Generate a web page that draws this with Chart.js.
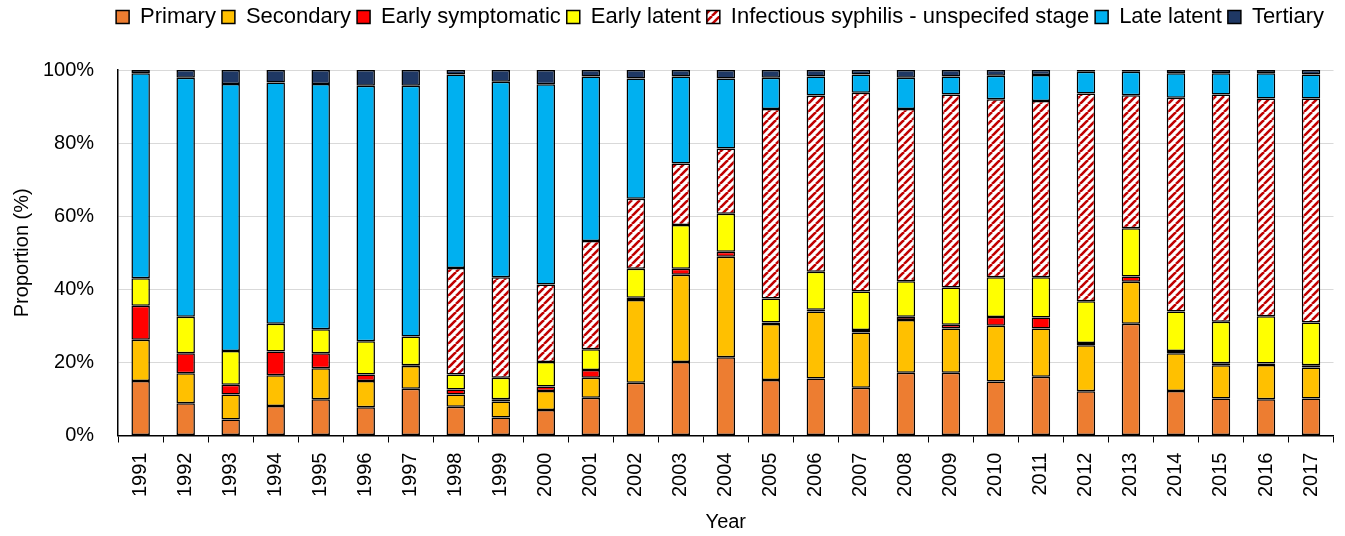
<!DOCTYPE html>
<html>
<head>
<meta charset="utf-8">
<script src="https://cdn.jsdelivr.net/npm/chart.js@4"></script>
<style>
  html, body { margin: 0; padding: 0; background: #fff; }
  #wrap { width: 1345px; height: 536px; }
</style>
</head>
<body>
<div id="wrap"><canvas id="chart" width="1345" height="536"></canvas></div>
<script>
// === Data (percent of cases per year) ===
const years = ['1991','1992','1993','1994','1995','1996','1997','1998','1999','2000','2001','2002','2003','2004',
               '2005','2006','2007','2008','2009','2010','2011','2012','2013','2014','2015','2016','2017'];
const primary      = [14.9, 8.8, 4.4, 8.1, 9.9, 7.7, 12.8, 7.9, 4.9, 7.0, 10.3, 14.4, 20.1, 21.4, 15.2, 15.6, 13.1, 17.2, 17.2, 14.8, 16.1, 12.1, 30.6, 12.2, 10.1, 9.9, 10.1];
const secondary    = [11.3, 8.2, 6.8, 8.4, 8.5, 7.2, 6.2, 3.3, 4.4, 5.2, 5.5, 22.7, 23.9, 27.5, 15.3, 18.3, 15.1, 14.4, 12.1, 15.2, 13.2, 12.6, 11.5, 10.3, 9.1, 9.4, 8.5];
const earlySymp    = [9.3, 5.5, 2.7, 6.5, 4.1, 1.8, 0.2, 1.4, 0.6, 1.2, 2.1, 0.6, 1.6, 1.4, 0.4, 0.5, 0.7, 0.9, 1.0, 2.4, 3.0, 0.6, 1.4, 0.6, 0.6, 0.4, 0.6];
const earlyLatent  = [7.5, 10.0, 9.2, 7.6, 6.6, 9.1, 7.9, 4.1, 5.9, 6.7, 5.7, 7.9, 12.0, 10.4, 6.6, 10.4, 10.5, 9.7, 10.2, 10.9, 11.0, 11.4, 13.2, 10.8, 11.3, 12.9, 11.7];
const infectious   = [0, 0, 0, 0, 0, 0, 0, 29.1, 27.5, 21.2, 29.6, 19.2, 16.8, 17.8, 51.8, 48.2, 54.4, 47.1, 52.8, 48.7, 48.2, 56.9, 36.4, 58.5, 62.2, 59.6, 61.3];
const lateLatent   = [56.1, 65.4, 73.1, 66.0, 67.1, 69.9, 68.6, 53.0, 53.5, 54.8, 45.0, 32.9, 23.8, 19.2, 8.6, 5.2, 5.0, 8.6, 4.9, 6.4, 7.1, 5.9, 6.4, 6.7, 5.8, 6.9, 6.6];
const tertiary     = [0.9, 2.1, 3.8, 3.4, 3.8, 4.3, 4.3, 1.2, 3.2, 3.9, 1.8, 2.3, 1.8, 2.3, 2.1, 1.8, 1.2, 2.1, 1.8, 1.6, 1.4, 0.5, 0.5, 0.9, 0.9, 0.9, 1.2];
const yTicks = [0, 20, 40, 60, 80, 100];

const fontFam = "'Liberation Sans', Arial, sans-serif";
const textColor = '#000';

// diagonal red stripes for the "unspecified stage" series
function makeStripes() {
    const c = document.createElement('canvas');
    c.width = 8; c.height = 8;
    const g = c.getContext('2d');
    g.fillStyle = '#fff';
    g.fillRect(0, 0, 8, 8);
    g.strokeStyle = '#C00000';
    g.lineWidth = 2.6;
    [-8, 0, 8].forEach(o => {
        g.beginPath();
        g.moveTo(o, 8);
        g.lineTo(o + 8, 0);
        g.stroke();
    });
    return g.createPattern(c, 'repeat');
}

const series = [
    { label: 'Primary', data: primary, color: '#ED7D31' },
    { label: 'Secondary', data: secondary, color: '#FFC000' },
    { label: 'Early symptomatic', data: earlySymp, color: '#FF0000' },
    { label: 'Early latent', data: earlyLatent, color: '#FFFF00' },
    { label: 'Infectious syphilis - unspecifed stage', data: infectious, color: makeStripes() },
    { label: 'Late latent', data: lateLatent, color: '#00B0F0' },
    { label: 'Tertiary', data: tertiary, color: '#1F3864' },
];

// make room under the legend so the plot starts lower,
// and pull the legend in a little from the right edge
const legendGap = {
    id: 'legendGap',
    beforeInit(chart) {
        const fit = chart.legend.fit;
        chart.legend.fit = function () {
            fit.bind(chart.legend)();
            this.height = 70;
        };
    },
    afterLayout(chart) {
        chart.legend.right -= 20;
    }
};

new Chart(document.getElementById('chart'), {
    type: 'bar',
    data: {
        labels: years,
        datasets: series.map(s => ({
            label: s.label,
            data: s.data,
            backgroundColor: s.color,
            borderColor: '#000',
            borderWidth: 1.5,
            borderSkipped: false,
            barPercentage: 0.41,
            categoryPercentage: 1.0,
        }))
    },
    plugins: [legendGap],
    options: {
        responsive: false,
        animation: false,
        layout: { padding: { left: 6, right: -5, top: 0, bottom: 2 } },
        plugins: {
            legend: {
                position: 'top',
                align: 'end',
                labels: {
                    color: textColor,
                    font: { family: fontFam, size: 22 },
                    boxWidth: 13,
                    boxHeight: 13,
                    padding: 6,
                },
            },
            tooltip: { enabled: false },
        },
        scales: {
            x: {
                stacked: true,
                grid: { display: true, drawOnChartArea: false, color: '#000', tickLength: 7, offset: true },
                border: { color: '#000', width: 1.5 },
                ticks: { color: textColor, font: { family: fontFam, size: 20 }, maxRotation: 90, minRotation: 90, padding: 10 },
                title: { display: true, text: 'Year', color: textColor, font: { family: fontFam, size: 20 }, padding: { top: 3, bottom: 0 } },
            },
            y: {
                stacked: true,
                min: 0, max: 100,
                afterBuildTicks: axis => { axis.ticks = yTicks.map(v => ({ value: v })); },
                grid: { color: '#d9d9d9', drawTicks: false, lineWidth: 1 },
                border: { color: '#000', width: 1.5 },
                ticks: { color: textColor, font: { family: fontFam, size: 20 }, padding: 24, callback: v => v + '%' },
                title: { display: true, text: 'Proportion (%)', color: textColor, font: { family: fontFam, size: 20 }, padding: { top: 4, bottom: -15 } },
            },
        },
    },
});
</script>
</body>
</html>
